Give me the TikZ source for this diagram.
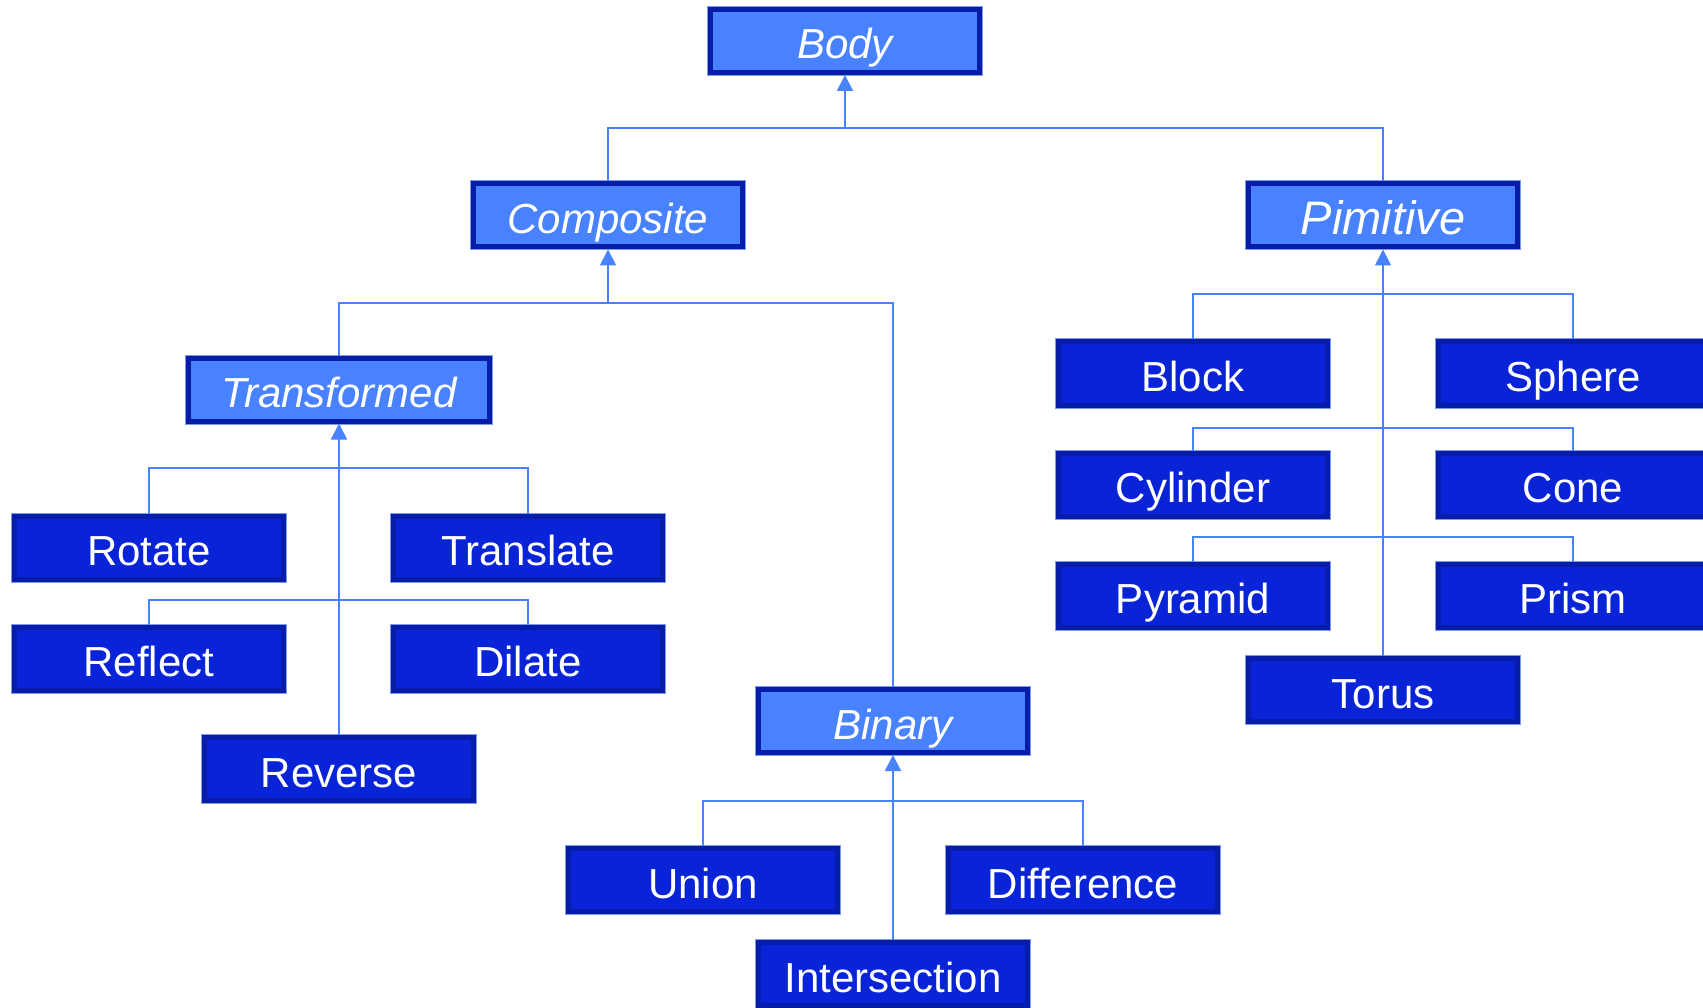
\documentclass[tikz,border=0pt]{standalone}
\usepackage{fontspec}
\setmainfont{Liberation Sans}
\usetikzlibrary{arrows.meta}
\definecolor{absfill}{RGB}{72,130,255}
\definecolor{boxedge}{RGB}{8,28,170}
\definecolor{concfill}{RGB}{8,36,214}
\definecolor{rimline}{RGB}{125,155,235}
\definecolor{linkcol}{RGB}{72,130,255}
\tikzset{
  cls/.style={rectangle, draw=boxedge, line width=5pt, inner sep=0pt,
    minimum width=269pt, minimum height=63pt,
    text=white, text height=36pt, text depth=0pt,
    font=\fontsize{42}{50}\selectfont,
    preaction={draw=rimline, line width=7pt}},
  abstractcls/.style={cls, fill=absfill, font=\fontsize{42}{50}\selectfont\itshape},
  concretecls/.style={cls, fill=concfill},
  link/.style={draw=linkcol, line width=1.8pt},
  inherit/.style={link, -{Triangle[width=16pt,length=16pt]}}
}
\begin{document}
\begin{tikzpicture}[x=1pt,y=-1pt]
\useasboundingbox (0,0) rectangle (1703,1008);

% abstract classes
\node[abstractcls] (body) at (845,41) {Body};
\node[abstractcls] (composite) at (608,215.5) {Composite};
\node[abstractcls, font=\fontsize{47}{56}\selectfont\itshape, text height=39pt] (pimitive) at (1383,215.5) {Pimitive};
\node[abstractcls, minimum width=301pt] (transformed) at (339,389.5) {Transformed};
\node[abstractcls] (binary) at (893,721) {Binary};

% transformed leaves
\node[concretecls] (rotate) at (149,547.5) {Rotate};
\node[concretecls] (translate) at (528,547.5) {Translate};
\node[concretecls] (reflect) at (149,658.5) {Reflect};
\node[concretecls] (dilate) at (528,658.5) {Dilate};
\node[concretecls] (reverse) at (339,769) {Reverse};

% binary leaves
\node[concretecls] (union) at (703,880) {Union};
\node[concretecls] (difference) at (1083,880) {Difference};
\node[concretecls] (intersection) at (893,974) {Intersection};

% primitive leaves
\node[concretecls] (block) at (1193,373.5) {Block};
\node[concretecls] (sphere) at (1573,373.5) {Sphere};
\node[concretecls] (cylinder) at (1193,484.5) {Cylinder};
\node[concretecls] (cone) at (1573,484.5) {Cone};
\node[concretecls] (pyramid) at (1193,595.5) {Pyramid};
\node[concretecls] (prism) at (1573,595.5) {Prism};
\node[concretecls] (torus) at (1383,690) {Torus};

% junction points of the inheritance buses
\coordinate (bodyhub) at (845,128);
\coordinate (comphub) at (608,303);
\coordinate (transhubA) at (339,468);
\coordinate (transhubB) at (339,600);
\coordinate (binhub) at (893,801);
\coordinate (primhubA) at (1383,294);
\coordinate (primhubB) at (1383,428);
\coordinate (primhubC) at (1383,537);

% Body
\draw[link] (composite.north) |- (bodyhub) -| (pimitive.north);
\draw[inherit] (bodyhub) -- (body.south);

% Composite
\draw[link] (transformed.north) |- (comphub) -| (binary.north);
\draw[inherit] (comphub) -- (composite.south);

% Transformed
\draw[link] (rotate.north) |- (transhubA) -| (translate.north);
\draw[link] (reflect.north) |- (transhubB) -| (dilate.north);
\draw[inherit] (reverse.north) -- (transformed.south);

% Binary
\draw[link] (union.north) |- (binhub) -| (difference.north);
\draw[inherit] (intersection.north) -- (binary.south);

% Pimitive
\draw[link] (block.north) |- (primhubA) -| (sphere.north);
\draw[link] (cylinder.north) |- (primhubB) -| (cone.north);
\draw[link] (pyramid.north) |- (primhubC) -| (prism.north);
\draw[inherit] (torus.north) -- (pimitive.south);
\end{tikzpicture}
\end{document}
